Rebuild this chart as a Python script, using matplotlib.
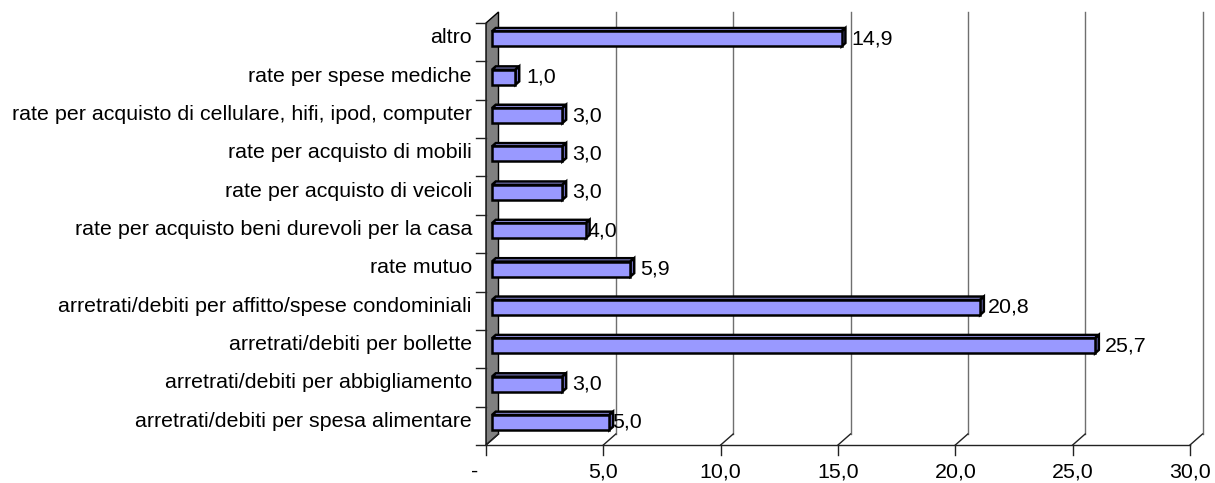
import matplotlib
matplotlib.use('Agg')
import matplotlib.pyplot as plt
from matplotlib.patches import Polygon
from matplotlib.transforms import offset_copy

plt.rcParams['font.family'] = ['Liberation Sans', 'DejaVu Sans']
plt.rcParams['font.size'] = 15.4

# ---- data (bottom to top) ----
categories = [
    "arretrati/debiti per spesa alimentare",
    "arretrati/debiti per abbigliamento",
    "arretrati/debiti per bollette",
    "arretrati/debiti per affitto/spese condominiali",
    "rate mutuo",
    "rate per acquisto beni durevoli per la casa",
    "rate per acquisto di veicoli",
    "rate per acquisto di mobili",
    "rate per acquisto di cellulare, hifi, ipod, computer",
    "rate per spese mediche",
    "altro",
]
values = [5.0, 3.0, 25.7, 20.8, 5.9, 4.0, 3.0, 3.0, 3.0, 1.0, 14.9]
xticks = [0, 5, 10, 15, 20, 25, 30]
xtick_labels = ['-', '5,0', '10,0', '15,0', '20,0', '25,0', '30,0']

# label padding (pixels) per bar, styling only
label_pad = [3, 10, 10, 8, 10, 2, 10, 10, 10, 11, 10]

# ---- layout ----
W, H = 1215, 483
L, R, B, T = 486, 1190, 445, 23
fig = plt.figure(figsize=(W / 100, H / 100), dpi=100)
fig.patch.set_facecolor('white')
ax = fig.add_axes([L / W, (H - B) / H, (R - L) / W, (B - T) / H])
n = len(categories)
xmax = xticks[-1]
ax.set_xlim(0, xmax)
ax.set_ylim(0, n)
ax.axis('off')

px_x = (R - L) / xmax
px_y = (B - T) / n
Dx = 12.5 / px_x
Dy = 11 / px_y

# left wall
ax.add_patch(Polygon([(0, 0), (Dx, Dy), (Dx, n + Dy), (0, n)], closed=True,
                     fc='#808080', ec='black', lw=1.0, clip_on=False, zorder=1))

# back wall gridlines
for t in xticks[1:]:
    ax.plot([t + Dx, t + Dx], [Dy, n + Dy], color='#6f6f6f', lw=1.0,
            clip_on=False, zorder=1)
# floor diagonals
for t in xticks:
    ax.plot([t, t + Dx], [0, Dy], color='#222222', lw=1.0, clip_on=False, zorder=1)
# front floor line
ax.plot([0, xmax], [0, 0], color='#222222', lw=1.0, clip_on=False, zorder=2)
# bottom ticks
for t in xticks:
    ax.plot([t, t], [0, -10 / px_y], color='#222222', lw=1.0, clip_on=False, zorder=2)
# left ticks
for k in range(n + 1):
    ax.plot([-10 / px_x, 0], [k, k], color='#222222', lw=1.0, clip_on=False, zorder=2)

# bars
f0, f1 = 0.48, 0.78
h = 15 / px_y
for i, v in enumerate(values):
    yc = i + 0.45
    y0, y1 = yc - h / 2, yc + h / 2
    front = [(f0 * Dx, y0 + f0 * Dy), (v + f0 * Dx, y0 + f0 * Dy),
             (v + f0 * Dx, y1 + f0 * Dy), (f0 * Dx, y1 + f0 * Dy)]
    top = [(f0 * Dx, y1 + f0 * Dy), (v + f0 * Dx, y1 + f0 * Dy),
           (v + f1 * Dx, y1 + f1 * Dy), (f1 * Dx, y1 + f1 * Dy)]
    cap = [(v + f0 * Dx, y0 + f0 * Dy), (v + f1 * Dx, y0 + f1 * Dy),
           (v + f1 * Dx, y1 + f1 * Dy), (v + f0 * Dx, y1 + f0 * Dy)]
    for poly, col in ((top, '#a3a3ff'), (cap, '#7676cc'), (front, '#9999ff')):
        ax.add_patch(Polygon(poly, closed=True, fc=col, ec='black', lw=1.8,
                             joinstyle='miter', clip_on=False, zorder=3))
    lab = f"{v:.1f}".replace('.', ',')
    ax.text(v + f0 * Dx, yc + f0 * Dy, lab, ha='left', va='center',
            transform=offset_copy(ax.transData, fig, x=label_pad[i], y=0, units='dots'),
            zorder=4)

# category labels
for i, c in enumerate(categories):
    ax.text(0, i + 0.5 + 0.5 * Dy, c, ha='right', va='center',
            transform=offset_copy(ax.transData, fig, x=-14, y=-1, units='dots'))

# x tick labels
for t, lab in zip(xticks, xtick_labels):
    dx = -11 if t == 0 else 0
    ax.text(t, 0, lab, ha='center', va='baseline',
            transform=offset_copy(ax.transData, fig, x=dx, y=-32, units='dots'))

fig.savefig('out.png', dpi=100, facecolor='white')
